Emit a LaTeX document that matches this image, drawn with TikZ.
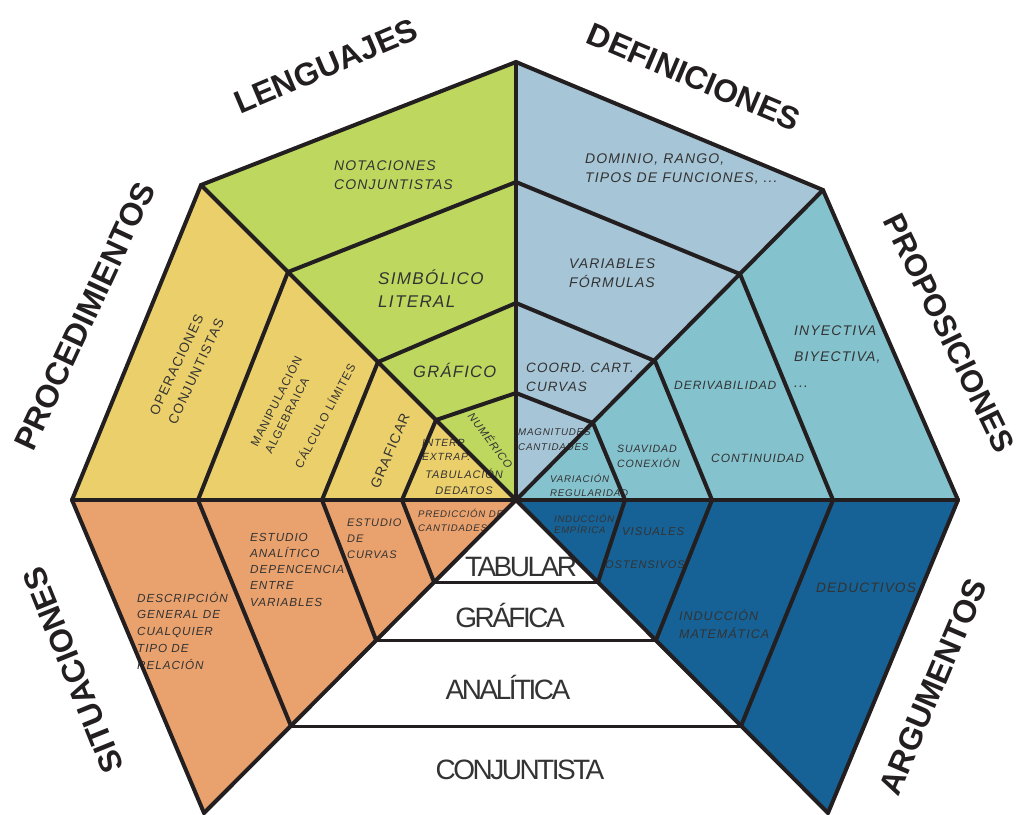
\documentclass[tikz,border=0pt]{standalone}
\usepackage{fontspec}
\setmainfont{Liberation Sans}
\newfontfamily\lblf[LetterSpace=8]{Liberation Sans}
\newfontfamily\whtf[LetterSpace=-9]{Liberation Sans}
\newfontfamily\headf{Liberation Sans}
\newcommand\fsz[2]{\fontsize{#1}{#2}\selectfont}
\definecolor{ink}{HTML}{231F20}
\definecolor{txt}{HTML}{333333}
\definecolor{cgreen}{HTML}{BED75F}
\definecolor{cyellow}{HTML}{EBCF6A}
\definecolor{corange}{HTML}{E9A16D}
\definecolor{clblue}{HTML}{A6C5D6}
\definecolor{cteal}{HTML}{84C2CE}
\definecolor{cdblue}{HTML}{166195}
\begin{document}
\begin{tikzpicture}[x=1pt,y=-1pt,
  edge/.style={draw=ink, line width=4pt, line cap=round},
  thinedge/.style={draw=ink, line width=3pt},
  itl/.style={text=txt, inner sep=0pt, align=left, anchor=west},
  upl/.style={text=txt, inner sep=0pt, align=left, anchor=west},
  ctr/.style={text=txt, inner sep=0pt, align=center, anchor=center},
  head/.style={text=ink, inner sep=0pt, font=\headf\bfseries\fsz{32}{36}},
  wlab/.style={text=txt, inner sep=0pt, font=\whtf\fsz{28}{30}}]
\useasboundingbox (0,0) rectangle (1020,814);
% main vertices
\coordinate (C) at (516,500);
\coordinate (T) at (516,62);
\coordinate (UL) at (201,185);
\coordinate (UR) at (823,190);
\coordinate (L) at (72,500);
\coordinate (R) at (958,500);
\coordinate (BL) at (204,813);
\coordinate (BR) at (828,813);
% divider points
\coordinate (a1) at (288,272);
\coordinate (a2) at (378,362);
\coordinate (a3) at (436,420);
\coordinate (v1) at (516,182);
\coordinate (v2) at (516,303);
\coordinate (v3) at (516,393);
\coordinate (b1) at (740,274);
\coordinate (b2) at (655,361);
\coordinate (b3) at (593,423);
\coordinate (y1) at (198,500);
\coordinate (y2) at (322,500);
\coordinate (y3) at (402,500);
\coordinate (p1) at (833,500);
\coordinate (p2) at (712,500);
\coordinate (p3) at (625,500);
\coordinate (o1) at (291,726);
\coordinate (o2) at (376,640);
\coordinate (o3) at (434,582);
\coordinate (d1) at (741,726);
\coordinate (d2) at (656,640);
\coordinate (d3) at (598,582);
% fills
\fill[cgreen] (T) -- (UL) -- (C) -- cycle;
\fill[clblue] (T) -- (UR) -- (C) -- cycle;
\fill[cyellow] (UL) -- (L) -- (C) -- cycle;
\fill[cteal] (UR) -- (R) -- (C) -- cycle;
\fill[corange] (L) -- (BL) -- (C) -- cycle;
\fill[cdblue] (R) -- (BR) -- (C) -- cycle;
% headings
\node[head, rotate=23] (hLen) at (326,66) {LENGUAJES};
\node[head, rotate=-23] (hDef) at (694,77) {DEFINICIONES};
\node[head, rotate=65] (hPro) at (85,316) {PROCEDIMIENTOS};
\node[head, rotate=-64, font=\headf\bfseries\fsz{31}{35}] (hPrp) at (949,333) {PROPOSICIONES};
\node[head, rotate=112] (hSit) at (73,670) {SITUACIONES};
\node[head, rotate=67] (hArg) at (933,687) {ARGUMENTOS};
% green texts
\node[itl, font={\lblf\itshape\fsz{14}{19}}] (tNot) at (334,175.5) {NOTACIONES\\CONJUNTISTAS};
\node[itl, font={\lblf\itshape\fsz{17}{23}}] (tSim) at (378,288.5) {SIMBÓLICO\\LITERAL};
\node[itl, font={\lblf\itshape\fsz{16.5}{20}}] (tGra) at (413,370) {GRÁFICO};
\node[ctr, rotate=-53, font={\lblf\itshape\fsz{11}{13}}] (tNum) at (491,440) {NUMÉRICO};
% yellow texts
\node[upl, rotate=65, font={\lblf\fsz{13.5}{20.5}}] (tOpe) at (162.5,419) {OPERACIONES\\CONJUNTISTAS};
\node[upl, rotate=63, font={\lblf\fsz{11.7}{16}}] (tMan) at (260,449) {MANIPULACIÓN\\ALGEBRAICA};
\node[upl, rotate=62, font={\lblf\fsz{11.7}{16}}] (tCal) at (297,467) {CÁLCULO LÍMITES};
\node[ctr, rotate=67, font={\lblf\fsz{14}{16}}] (tGrf) at (390,451) {GRAFICAR};
\node[itl, font={\lblf\itshape\fsz{10.4}{14}}] (tInt) at (422,450) {INTERP\\EXTRAP.};
\node[ctr, font={\lblf\itshape\fsz{11}{16}}] (tTab) at (464,482) {TABULACIÓN\\DEDATOS};
% orange texts
\node[itl, font={\lblf\itshape\fsz{11.7}{16.75}}] (tDes) at (137,630.5) {DESCRIPCIÓN\\GENERAL DE\\CUALQUIER\\TIPO DE\\RELACIÓN};
\node[itl, font={\lblf\itshape\fsz{11.7}{16.25}}] (tEsA) at (250,569.5) {ESTUDIO\\ANALÍTICO\\DEPENCENCIA\\ENTRE\\VARIABLES};
\node[itl, font={\lblf\itshape\fsz{11}{16}}] (tEsC) at (347,539) {ESTUDIO\\DE\\CURVAS};
\node[itl, font={\lblf\itshape\fsz{9.6}{14}}] (tPre) at (418,520) {PREDICCIÓN DE\\CANTIDADES};
% light blue texts
\node[itl, font={\lblf\itshape\fsz{14}{19}}] (tDom) at (585,169.5) {DOMINIO, RANGO,\\TIPOS DE FUNCIONES, ...};
\node[itl, font={\lblf\itshape\fsz{14}{19}}] (tVar) at (569,273.5) {VARIABLES\\FÓRMULAS};
\node[itl, font={\lblf\itshape\fsz{13.5}{19}}] (tCoo) at (526,377.5) {COORD. CART.\\CURVAS};
\node[itl, font={\lblf\itshape\fsz{9.8}{15}}] (tMag) at (518,439.5) {MAGNITUDES\\CANTIDADES};
% teal texts
\node[itl, font={\lblf\itshape\fsz{14}{26}}] (tIny) at (794,357) {INYECTIVA\\BIYECTIVA,\\...};
\node[itl, font={\lblf\itshape\fsz{12}{14}}] (tDer) at (674,385) {DERIVABILIDAD};
\node[itl, font={\lblf\itshape\fsz{12}{14}}] (tCon) at (711,458) {CONTINUIDAD};
\node[itl, font={\lblf\itshape\fsz{10.6}{15}}] (tSua) at (617,456.5) {SUAVIDAD\\CONEXIÓN};
\node[itl, font={\lblf\itshape\fsz{9.7}{14}}] (tVri) at (550,485) {VARIACIÓN\\REGULARIDAD};
% dark blue texts
\node[itl, font={\lblf\itshape\fsz{9.5}{11}}] (tIEm) at (554,523.5) {INDUCCIÓN\\EMPÍRICA};
\node[itl, font={\lblf\itshape\fsz{11.4}{14}}] (tVis) at (622,532) {VISUALES};
\node[itl, font={\lblf\itshape\fsz{11}{14}}] (tOst) at (605,565) {OSTENSIVOS};
\node[itl, font={\lblf\itshape\fsz{12.5}{18}}] (tIMa) at (679,624) {INDUCCIÓN\\MATEMÁTICA};
\node[itl, font={\lblf\itshape\fsz{13.7}{16}}] (tDed) at (816,588) {DEDUCTIVOS};
% white texts
\node[wlab] (wTab) at (521,567) {TABULAR};
\node[wlab] (wGra) at (510,615) {GRÁFICA};
\node[wlab] (wAna) at (508,687) {ANALÍTICA};
\node[wlab] (wCon) at (520,770) {CONJUNTISTA};
% white horizontal lines
\draw[thinedge] (o3) -- (d3);
\draw[thinedge] (o2) -- (d2);
\draw[thinedge] (o1) -- (d1);
% outer and main lines
\draw[edge] (UL) -- (T) -- (UR);
\draw[edge] (L) -- (UL);
\draw[edge] (UR) -- (R);
\draw[edge] (L) -- (BL);
\draw[edge] (R) -- (BR);
\draw[edge] (L) -- (R);
\draw[edge] (T) -- (C);
\draw[edge] (UL) -- (C);
\draw[edge] (UR) -- (C);
\draw[edge] (C) -- (BL);
\draw[edge] (C) -- (BR);
% dividers
\draw[edge] (a1) -- (v1) -- (b1);
\draw[edge] (a2) -- (v2) -- (b2);
\draw[edge] (a3) -- (v3) -- (b3);
\draw[edge] (a1) -- (y1) -- (o1);
\draw[edge] (a2) -- (y2) -- (o2);
\draw[edge] (a3) -- (y3) -- (o3);
\draw[edge] (b1) -- (p1) -- (d1);
\draw[edge] (b2) -- (p2) -- (d2);
\draw[edge] (b3) -- (p3) -- (d3);
\end{tikzpicture}
\end{document}
